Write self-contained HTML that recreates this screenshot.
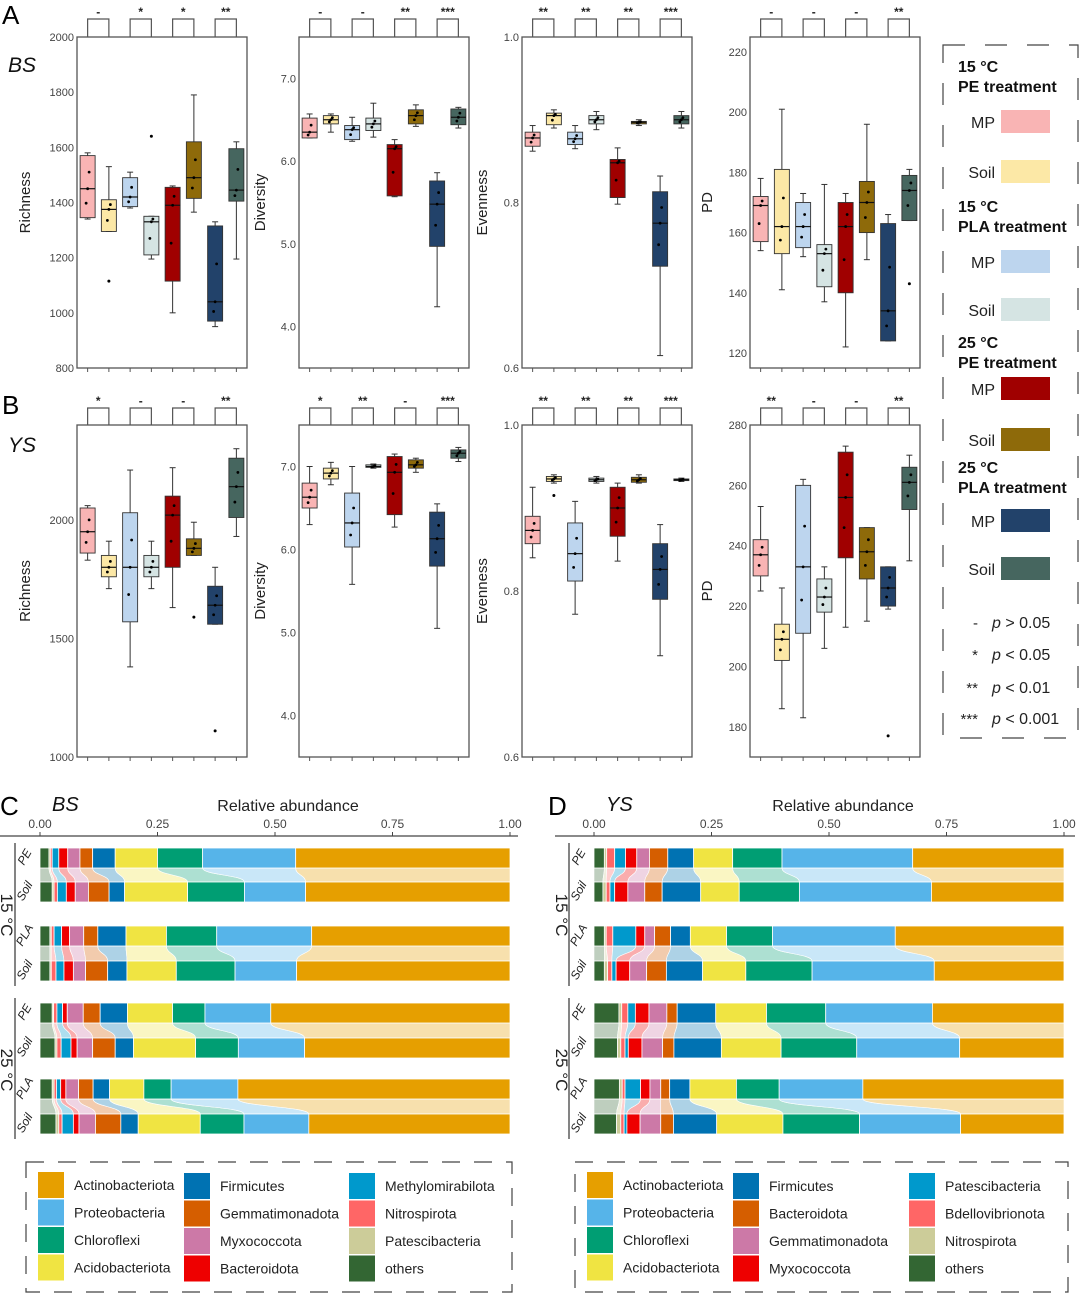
<!DOCTYPE html>
<html><head><meta charset="utf-8"><style>
body{margin:0;background:#fff;}
svg{display:block;font-family:"Liberation Sans",Arial,sans-serif;}
</style></head><body>
<svg id="fig" width="1080" height="1295" viewBox="0 0 1080 1295" xmlns="http://www.w3.org/2000/svg"></svg>
<script>
// ---------- Data: alpha diversity boxplots [lo, q1, median, q3, hi] ----------
const groupColors = ["#F9B4B4","#FCE8A6","#BDD5EE","#D5E4E3","#A00000","#8E6A0A","#22426A","#46665F"];
const richBS = [[1340,1345,1450,1570,1580],[1295,1295,1375,1410,1530],[1380,1385,1420,1490,1510],[1195,1210,1330,1350,1350],[1000,1115,1390,1455,1460],[1365,1415,1490,1620,1790],[950,970,1040,1315,1330],[1195,1405,1445,1595,1620]];
const richBSout = [[],[1115],[],[1640],[],[],[],[]];
const divBS = [[6.28,6.28,6.35,6.52,6.57],[6.35,6.45,6.5,6.55,6.57],[6.24,6.26,6.38,6.43,6.53],[6.29,6.37,6.45,6.52,6.7],[5.57,5.58,6.15,6.2,6.26],[6.42,6.45,6.55,6.62,6.68],[4.24,4.97,5.48,5.76,5.86],[6.4,6.44,6.53,6.63,6.65]];
const evenBS = [[0.862,0.868,0.878,0.885,0.893],[0.89,0.894,0.905,0.908,0.912],[0.865,0.87,0.877,0.885,0.893],[0.888,0.895,0.9,0.905,0.91],[0.798,0.806,0.848,0.852,0.866],[0.893,0.895,0.897,0.898,0.9],[0.615,0.723,0.775,0.813,0.832],[0.89,0.895,0.9,0.905,0.91]];
const pdBS = [[154,157,169,172,178],[141,153,162,181,201],[152,155,162,170,173],[137,142,153,156,176],[122,140,162,170,173],[151,160,170,177,196],[124,124,134,163,166],[164,164,174,179,181]];
const pdBSout = [[],[],[],[],[],[],[],[143]];
const richYS = [[1830,1860,1950,2050,2060],[1710,1760,1800,1850,1910],[1380,1570,1800,2030,2210],[1710,1760,1800,1850,1910],[1630,1800,2020,2100,2220],[1850,1850,1880,1920,1990],[1560,1560,1640,1720,1800],[1930,2010,2140,2260,2300]];
const richYSout = [[],[],[],[],[],[1590],[1110],[]];
const divYS = [[6.3,6.5,6.63,6.8,7.0],[6.78,6.85,6.92,6.98,7.05],[5.58,6.03,6.32,6.68,7.0],[6.98,6.99,7.0,7.02,7.03],[6.27,6.42,6.93,7.12,7.15],[6.93,6.98,7.02,7.08,7.1],[5.05,5.8,6.13,6.45,6.55],[7.06,7.1,7.16,7.2,7.23]];
const evenYS = [[0.84,0.857,0.873,0.89,0.925],[0.93,0.932,0.935,0.938,0.94],[0.772,0.812,0.845,0.882,0.908],[0.93,0.932,0.934,0.936,0.938],[0.836,0.866,0.9,0.925,0.93],[0.93,0.931,0.934,0.937,0.94],[0.722,0.79,0.826,0.857,0.88],[0.932,0.933,0.934,0.935,0.936]];
const evenYSout = [[],[0.915],[],[],[],[],[],[]];
const pdYS = [[225,230,237,242,253],[186,202,209,214,226],[183,211,233,260,262],[206,218,223,229,233],[213,236,256,271,273],[215,229,238,246,246],[219,220,226,233,233],[235,252,261,266,270]];
const pdYSout = [[],[],[],[],[],[],[177],[]];
const sigA = [["-","*","*","**"],["-","-","**","***"],["**","**","**","***"],["-","-","-","**"]];
const sigB = [["*","-","-","**"],["*","**","-","***"],["**","**","**","***"],["**","-","-","**"]];
const richTicksA=[800,1000,1200,1400,1600,1800,2000];
const divTicks=[4.0,5.0,6.0,7.0];
const evenTicks=[0.6,0.8,1.0];
const pdTicksA=[120,140,160,180,200,220];
const richTicksB=[1000,1500,2000];
const pdTicksB=[180,200,220,240,260,280];

// ---------- Data: relative abundance (cumulative boundaries, left->right) ----------
const taxaColors=["#336633","#CCCC99","#FF6666","#0099CC","#EE0000","#CC79A7","#D55E00","#0072B2","#F0E442","#009E73","#56B4E9","#E69F00"];
const barLabels=["PE","Soil","PLA","Soil","PE","Soil","PLA","Soil"];
const cumBS=[
[.019,.022,.026,.040,.059,.085,.112,.160,.250,.346,.544,1],
[.026,.030,.037,.056,.075,.103,.147,.180,.314,.435,.565,1],
[.021,.024,.030,.046,.063,.093,.123,.183,.269,.376,.578,1],
[.021,.024,.034,.051,.071,.097,.144,.185,.290,.415,.546,1],
[.026,.029,.036,.048,.058,.092,.128,.186,.282,.351,.491,1],
[.032,.036,.045,.066,.079,.112,.160,.199,.331,.422,.563,1],
[.026,.030,.035,.044,.055,.082,.113,.148,.221,.279,.421,1],
[.034,.040,.047,.071,.083,.118,.172,.209,.341,.434,.572,1]];
const cumYS=[
[.022,.027,.044,.067,.091,.118,.157,.212,.295,.400,.678,1],
[.019,.026,.034,.044,.072,.108,.145,.227,.309,.437,.718,1],
[.022,.026,.040,.089,.108,.129,.163,.205,.282,.380,.641,1],
[.022,.029,.038,.047,.076,.112,.154,.231,.323,.464,.724,1],
[.053,.059,.072,.088,.117,.155,.177,.259,.367,.493,.720,1],
[.050,.057,.066,.073,.102,.146,.170,.271,.398,.559,.778,1],
[.054,.060,.066,.099,.119,.142,.161,.204,.303,.394,.572,1],
[.048,.057,.064,.070,.098,.142,.169,.261,.402,.565,.780,1]];
const xTicks=[0,0.25,0.5,0.75,1];
const legNamesC=["Actinobacteriota","Proteobacteria","Chloroflexi","Acidobacteriota","Firmicutes","Gemmatimonadota","Myxococcota","Bacteroidota","Methylomirabilota","Nitrospirota","Patescibacteria","others"];
const legNamesD=["Actinobacteriota","Proteobacteria","Chloroflexi","Acidobacteriota","Firmicutes","Bacteroidota","Gemmatimonadota","Myxococcota","Patescibacteria","Bdellovibrionota","Nitrospirota","others"];
const legColors=["#E69F00","#56B4E9","#009E73","#F0E442","#0072B2","#D55E00","#CC79A7","#EE0000","#0099CC","#FF6666","#CCCC99","#336633"];

// ---------- helpers ----------
const svg=document.getElementById('fig');
const NS="http://www.w3.org/2000/svg";
function el(tag,attrs,parent){const e=document.createElementNS(NS,tag);for(const k in attrs)e.setAttribute(k,attrs[k]);(parent||svg).appendChild(e);return e;}
function txt(s,attrs,parent){const t=el('text',attrs,parent);t.textContent=s;return t;}

function boxPanel(name,x0,y0,w,h,min,max,ticks,fmt,data,outs,sig,ytitle,sigTop,titleOff){
  const g=el('g',{});
  
  
  const sy=v=>y0+h-(v-min)/(max-min)*h;
  const cx=i=>x0+(i+0.5)/8*w;
  el('rect',{x:x0,y:y0,width:w,height:h,fill:'none',stroke:'#555','stroke-width':1.3},g);
  ticks.forEach(t=>{
    const l=txt(fmt(t),{x:x0-3,y:sy(t)+4,'text-anchor':'end','font-size':11,fill:'#444'},g);
    
    
  });
  const yt=txt(ytitle,{transform:`translate(${x0-titleOff},${y0+h/2}) rotate(-90)`,'text-anchor':'middle','font-size':15,fill:'#222'},g);
  
  
  data.forEach((d,i)=>{
    const c=cx(i),bw=15;
    el('line',{x1:c,x2:c,y1:y0+h,y2:y0+h+4,stroke:'#555'},g);
    el('line',{x1:c,x2:c,y1:sy(d[0]),y2:sy(d[4]),stroke:'#333','stroke-width':1},g);
    el('line',{x1:c-3,x2:c+3,y1:sy(d[0]),y2:sy(d[0]),stroke:'#333'},g);
    el('line',{x1:c-3,x2:c+3,y1:sy(d[4]),y2:sy(d[4]),stroke:'#333'},g);
    const b=el('rect',{x:c-bw/2,y:sy(d[3]),width:bw,height:Math.max(1,sy(d[1])-sy(d[3])),fill:groupColors[i],stroke:'#333','stroke-width':0.9},g);
    
    
    el('line',{x1:c-bw/2,x2:c+bw/2,y1:sy(d[2]),y2:sy(d[2]),stroke:'#111','stroke-width':1.2},g);
    [d[1],d[2],d[3]].forEach((v,k)=>el('circle',{cx:c+(k-1)*1.5,cy:sy((v+d[2])/2),r:1.4,fill:'#000'},g));
    (outs[i]||[]).forEach(v=>{const o=el('circle',{cx:c,cy:sy(v),r:1.5,fill:'#000'},g);
      
      });
  });
  sig.forEach((s,k)=>{
    const a=cx(2*k),b=cx(2*k+1);
    el('path',{d:`M${a},${y0} V${sigTop} H${b} V${y0}`,fill:'none',stroke:'#555','stroke-width':1.2},g);
    const st=txt(s,{x:(a+b)/2,y:sigTop-3,'text-anchor':'middle','font-size':12,'font-weight':'bold',fill:'#222'},g);
    
    
  });
}
const f0=v=>String(v), f1=v=>v.toFixed(1);
const X=[77,299,522,750], W=170;
// Row A
boxPanel('richness-bs',X[0],37,W,331,800,2000,richTicksA,f0,richBS,richBSout,sigA[0],'Richness',19,47);
boxPanel('diversity-bs',X[1],37,W,331,3.5,7.5,divTicks,f1,divBS,[],sigA[1],'Diversity',19,34);
boxPanel('evenness-bs',X[2],37,W,331,0.6,1.0,evenTicks,f1,evenBS,[],sigA[2],'Evenness',19,35);
boxPanel('pd-bs',X[3],37,W,331,115,225,pdTicksA,f0,pdBS,pdBSout,sigA[3],'PD',19,38);
// Row B
boxPanel('richness-ys',X[0],425,W,332,1000,2400,richTicksB,f0,richYS,richYSout,sigB[0],'Richness',408,47);
boxPanel('diversity-ys',X[1],425,W,332,3.5,7.5,divTicks,f1,divYS,[],sigB[1],'Diversity',408,34);
boxPanel('evenness-ys',X[2],425,W,332,0.6,1.0,evenTicks,f1,evenYS,evenYSout,sigB[2],'Evenness',408,35);
boxPanel('pd-ys',X[3],425,W,332,170,280,pdTicksB,f0,pdYS,pdYSout,sigB[3],'PD',408,38);

// Panel letters
[['A',2,24,'panel-a-label'],['B',2,414,'panel-b-label'],['C',0,815,'panel-c-label'],['D',548,815,'panel-d-label']].forEach(p=>{
  const t=txt(p[0],{x:p[1],y:p[2],'font-size':26,fill:'#000'});
  
  
});
[['BS',8,72],['YS',8,452]].forEach(p=>{
  const t=txt(p[0],{x:p[1],y:p[2],'font-size':21,'font-style':'italic',fill:'#111'});
  
  
});

// Group legend (right)
const lg=el('g',{});


el('rect',{x:943,y:45,width:135,height:693,fill:'none',stroke:'#444','stroke-width':1.2,'stroke-dasharray':'22 20'},lg);
const legGroups=[["15 °C","PE treatment",67],["15 °C","PLA treatment",207],["25 °C","PE treatment",343],["25 °C","PLA treatment",468]];
legGroups.forEach((g,k)=>{
  txt(g[0],{x:958,y:g[2]+5,'font-size':16,'font-weight':'bold',fill:'#111'},lg);
  txt(g[1],{x:958,y:g[2]+25,'font-size':16,'font-weight':'bold',fill:'#111'},lg);
});
const swY=[110,160,250,298,377,428,509,557];
swY.forEach((y,i)=>{
  txt(i%2?"Soil":"MP",{x:995,y:y+18,'text-anchor':'end','font-size':16,fill:'#222'},lg);
  const s=el('rect',{x:1001,y:y,width:49,height:23,fill:groupColors[i]},lg);
  
  
});
[["-","p > 0.05",628],["*","p < 0.05",660],["**","p < 0.01",693],["***","p < 0.001",724]].forEach(r=>{
  txt(r[0],{x:978,y:r[2],'text-anchor':'end','font-size':15,fill:'#222'},lg);
  const t=txt('',{x:992,y:r[2],'font-size':16,fill:'#222'},lg);
  const p=el('tspan',{'font-style':'italic'},t);p.textContent='p';
  const q=el('tspan',{},t);q.textContent=r[1].slice(1);
});

// ---------- Stacked alluvial bars ----------
const rowY=[848,882,926,961,1003,1038,1079,1114], BH=20;
function lighten(hex,a){const n=parseInt(hex.slice(1),16);const r=n>>16,g=(n>>8)&255,b=n&255;
  const m=v=>Math.round(v+(255-v)*a);return `rgb(${m(r)},${m(g)},${m(b)})`;}
function stackPanel(name,x0,x1,cum,axisL,axisR,site,titleX,tempX){
  const g=el('g',{});
  
  
  const sx=v=>x0+v*(x1-x0);
  el('line',{x1:axisL,x2:axisR,y1:836,y2:836,stroke:'#444','stroke-width':1.2},g);
  xTicks.forEach(t=>{
    el('line',{x1:sx(t),x2:sx(t),y1:832,y2:836,stroke:'#444'},g);
    const l=txt(t.toFixed(2),{x:sx(t),y:828,'text-anchor':'middle','font-size':12,fill:'#444'},g);
    
    
  });
  const at=txt('Relative abundance',{x:titleX,y:811,'text-anchor':'middle','font-size':16,fill:'#222'},g);
  
  
  const st=txt(site,{x:x0+12,y:811,'font-size':20,'font-style':'italic',fill:'#111'},g);
  
  
  for(let p=0;p<4;p++){
    const a=cum[2*p],b=cum[2*p+1],yT=rowY[2*p]+BH,yB=rowY[2*p+1],ym=(yT+yB)/2;
    for(let k=0;k<12;k++){
      const ta0=sx(k?a[k-1]:0),ta1=sx(a[k]),tb0=sx(k?b[k-1]:0),tb1=sx(b[k]);
      el('path',{d:`M${ta0},${yT} C${ta0},${ym} ${tb0},${ym} ${tb0},${yB} L${tb1},${yB} C${tb1},${ym} ${ta1},${ym} ${ta1},${yT} Z`,fill:lighten(taxaColors[k],0.68),stroke:'#fff','stroke-width':0.6},g);
    }
  }
  cum.forEach((c,r)=>{
    c.forEach((v,k)=>{
      const s=k?c[k-1]:0;
      const seg=el('rect',{x:sx(s),y:rowY[r],width:sx(v)-sx(s),height:BH,fill:taxaColors[k],stroke:'#fff','stroke-width':0.8},g);
      
      
    });
    const lab=txt(barLabels[r],{transform:`translate(${x0-12},${rowY[r]+BH/2+1}) rotate(-60)`,'text-anchor':'middle','font-size':12,'font-style':'italic',fill:'#222'},g);
    
    
  });
  el('line',{x1:x0-25,x2:x0-25,y1:843,y2:986,stroke:'#333','stroke-width':1.2},g);
  el('line',{x1:x0-25,x2:x0-25,y1:998,y2:1139,stroke:'#333','stroke-width':1.2},g);
  [["15 °C",915],["25 °C",1070]].forEach(t=>{
    const l=txt(t[0],{transform:`translate(${tempX},${t[1]}) rotate(90)`,'text-anchor':'middle','font-size':17,fill:'#222'},g);
    
    
  });
}
stackPanel('abundance-bs',40,510,cumBS,0,518,'BS',288,1);
stackPanel('abundance-ys',594,1064,cumYS,555,1075,'YS',843,556);

function taxaLegend(name,bx,bw,names,cols){
  const g=el('g',{});
  
  
  el('rect',{x:bx,y:1162,width:bw,height:130,fill:'none',stroke:'#444','stroke-width':1.2,'stroke-dasharray':'18 14'},g);
  names.forEach((n,i)=>{
    const c=Math.floor(i/4),r=i%4;
    const sx=bx+cols[c],sy=1172+r*27.5+(c?1:0);
    const s=el('rect',{x:sx,y:sy,width:26,height:26,fill:legColors[i]},g);
    
    
    txt(n,{x:sx+36,y:sy+18,'font-size':14,fill:'#222'},g);
  });
}
taxaLegend('taxa-legend-bs',26,486,legNamesC,[12,158,323]);
taxaLegend('taxa-legend-ys',575,493,legNamesD,[12,158,334]);
</script>
</body></html>
